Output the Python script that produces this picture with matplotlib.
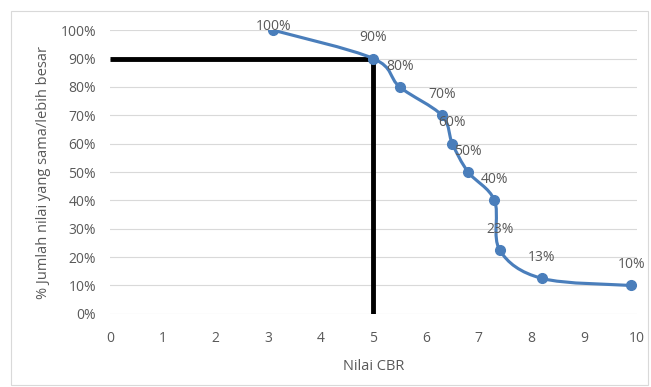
import numpy as np
import matplotlib
matplotlib.use('Agg')
import matplotlib.pyplot as plt
from matplotlib.path import Path
from matplotlib.patches import PathPatch, Rectangle
from matplotlib.ticker import PercentFormatter

# ── Data ──────────────────────────────────────────────────────────────────────
cbr = [3.1, 5.0, 5.5, 6.3, 6.5, 6.8, 7.3, 7.4, 8.2, 9.9]
pct = [1.00, 0.90, 0.80, 0.70, 0.60, 0.50, 0.40, 0.225, 0.125, 0.10]
labels = ['100%', '90%', '80%', '70%', '60%', '50%', '40%', '23%', '13%', '10%']
cbr_design = 5.0
pct_design = 0.90

blue = '#4A7EBB'
grey = '#595959'

plt.rcParams['font.family'] = ['Open Sans', 'DejaVu Sans']

fig = plt.figure(figsize=(6.51, 3.87), dpi=100)
ax = fig.add_axes([0.169, 0.189, 0.809, 0.733])

# chart border
fig.patches.append(Rectangle((11 / 651, 2 / 387), 637 / 651, 374 / 387,
                             transform=fig.transFigure, fill=False,
                             edgecolor='#D9D9D9', lw=0.8))

# smoothed line (Excel-style cardinal spline as bezier segments)
pts = np.column_stack([cbr, pct])
verts = [pts[0]]
codes = [Path.MOVETO]
t = 1 / 6
for i in range(len(pts) - 1):
    p0 = pts[i - 1] if i > 0 else pts[i]
    p1, p2 = pts[i], pts[i + 1]
    p3 = pts[i + 2] if i + 2 < len(pts) else pts[i + 1]
    verts += [p1 + (p2 - p0) * t, p2 - (p3 - p1) * t, p2]
    codes += [Path.CURVE4] * 3
ax.add_patch(PathPatch(Path(verts, codes), fill=False, edgecolor=blue,
                       lw=2.25, zorder=3))
ax.plot(cbr, pct, 'o', color=blue, markersize=7, zorder=4)

for xv, yv, lab in zip(cbr, pct, labels):
    dy = 3 if yv >= 1.0 else 15   # top label pushed inside plot area
    ax.annotate(lab, (xv, yv), xytext=(0, dy), textcoords='offset points',
                ha='center', va='center', fontsize=10, color=grey, zorder=5,
                annotation_clip=False)

# design lines
ax.plot([0, cbr_design], [pct_design, pct_design], color='black', lw=3.5,
        solid_capstyle='butt', zorder=2)
ax.plot([cbr_design, cbr_design], [pct_design, 0], color='black', lw=3.5,
        solid_capstyle='butt', zorder=2)

ax.set_xlim(0, 10)
ax.set_ylim(0, 1.0)
ax.set_xticks(range(0, 11))
ax.set_yticks(np.arange(0, 1.01, 0.1))
ax.yaxis.set_major_formatter(PercentFormatter(1.0, decimals=0))
ax.grid(axis='y', color='#D9D9D9', lw=0.8)
ax.set_axisbelow(True)
for s in ax.spines.values():
    s.set_visible(False)
ax.tick_params(length=0, labelsize=10, colors=grey)
ax.tick_params(axis='x', pad=12)
ax.tick_params(axis='y', pad=10)
ax.set_xlabel('Nilai CBR', fontsize=10.5, color=grey, labelpad=10)
ax.set_ylabel('% Jumlah nilai yang sama/lebih besar', fontsize=10.5,
              color=grey, labelpad=7)

plt.savefig('out.png', dpi=100)
